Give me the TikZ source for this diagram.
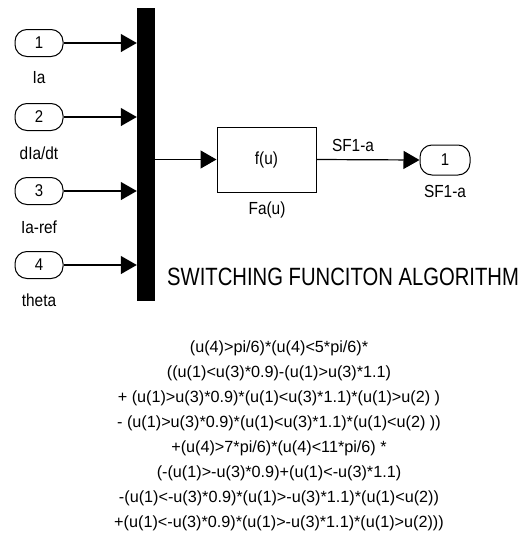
\documentclass[tikz,border=0pt]{standalone}
\usepackage{fontspec}
\setmainfont{Liberation Sans}
\newfontfamily\condfont[FakeStretch=0.81]{Liberation Sans}
\newfontfamily\labfont[FakeStretch=0.88]{Liberation Sans}
\usetikzlibrary{arrows.meta}
\begin{document}
\begin{tikzpicture}[x=1pt,y=-1pt,
  port/.style={draw, line width=1pt, rounded corners=12pt, minimum width=48pt,
    minimum height=27pt, inner sep=0pt, font=\labfont\fontsize{17}{17}\selectfont},
  lab/.style={font=\labfont\fontsize{17.5}{17.5}\selectfont, inner sep=0pt},
  sig/.style={line width=1.2pt, -{Triangle[length=16pt,width=18pt]}},
  eq/.style={font=\fontsize{16.2}{16.2}\selectfont, inner sep=0pt, anchor=base}
]
\useasboundingbox (0,0) rectangle (526,554);
% inports
\node[port] (in1) at (39,43) {1};
\node[port] (in2) at (39,117) {2};
\node[port] (in3) at (39,191) {3};
\node[port] (in4) at (39,265) {4};
\node[lab] (l1) at (39,78) {Ia};
\node[lab] (l2) at (39,153) {dIa/dt};
\node[lab] (l3) at (39,227) {Ia-ref};
\node[lab] (l4) at (39,300) {theta};
% mux bar
\node[draw, fill=black, minimum width=17pt, minimum height=292pt, inner sep=0pt] (mux) at (145.5,154) {};
\foreach \k in {1,2,3,4}{
  \draw[sig] (in\k.east) -- (in\k.east -| mux.west);
}
% function block
\node[draw, line width=1pt, minimum width=99pt, minimum height=65pt, inner sep=0pt, lab] (fcn) at (266.5,159.5) {f(u)};
\node[lab] (fl) at (267,210) {Fa(u)};
\draw[sig] (mux.east |- fcn.west) -- (fcn.west);
% outport
\node[port, minimum width=50pt, minimum height=30pt] (out1) at (445,160) {1};
\draw[sig] (fcn.east) -- (out1.west);
\node[lab] (sl) at (353,145) {SF1-a};
\node[lab] (ol) at (445,191) {SF1-a};
% title
\node[font=\condfont\fontsize{25}{25}\selectfont, anchor=base west, inner sep=0pt] (title) at (167,285) {SWITCHING FUNCITON ALGORITHM};
% equations
\foreach \t [count=\i] in {
  {(u(4)>pi/6)*(u(4)<5*pi/6)*},
  {((u(1)<u(3)*0.9)-(u(1)>u(3)*1.1)},
  {+ (u(1)>u(3)*0.9)*(u(1)<u(3)*1.1)*(u(1)>u(2) )},
  {- (u(1)>u(3)*0.9)*(u(1)<u(3)*1.1)*(u(1)<u(2) ))},
  {+(u(4)>7*pi/6)*(u(4)<11*pi/6) *},
  {(-(u(1)>-u(3)*0.9)+(u(1)<-u(3)*1.1)},
  {-(u(1)<-u(3)*0.9)*(u(1)>-u(3)*1.1)*(u(1)<u(2))},
  {+(u(1)<-u(3)*0.9)*(u(1)>-u(3)*1.1)*(u(1)>u(2)))}}{
  \node[eq] (eq\i) at ({279},{352+25*(\i-1)}) {\t};
}
\end{tikzpicture}
\end{document}
